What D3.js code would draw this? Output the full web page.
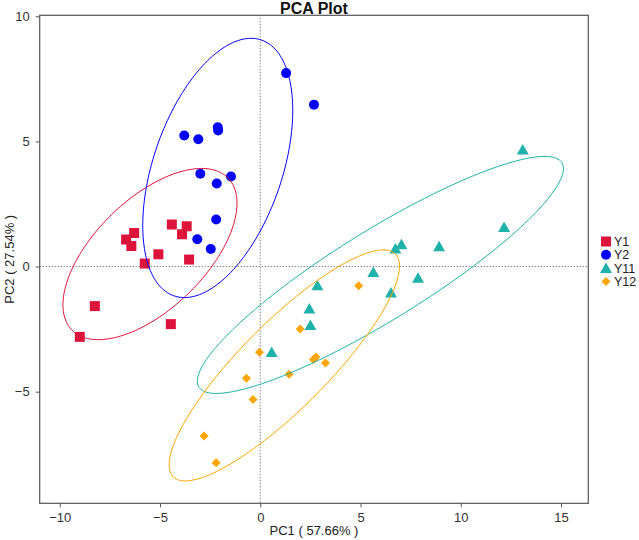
<!DOCTYPE html>
<html><head><meta charset="utf-8">
<script src="https://cdn.jsdelivr.net/npm/d3@7"></script>
<style>
body{margin:0;background:#fff;}
text{font-family:"Liberation Sans",Arial,sans-serif;}
</style></head>
<body><svg id="c" width="639" height="540"></svg>
<script>
const groups = ["Y1","Y2","Y11","Y12"];
const colors = ["#DC143C","#0000FF","#20B2AA","#FFA500"];
const y1PC1 = [-4.41,-3.67,-3.90,-6.29,-6.69,-6.43,-5.08,-5.76,-3.55,-8.25,-4.46,-9.00];
const y1PC2 = [1.68,1.61,1.29,1.34,1.08,0.82,0.49,0.12,0.28,-1.58,-2.30,-2.81];
const y2PC1 = [1.29,2.68,-2.12,-2.10,-3.79,-3.09,-2.99,-1.46,-2.17,-2.20,-3.14,-2.47];
const y2PC2 = [7.73,6.47,5.57,5.44,5.24,5.09,3.71,3.60,3.32,1.88,1.09,0.70];
const y11PC1 = [13.09,12.16,7.04,6.74,8.92,5.64,7.87,2.85,6.52,2.45,2.50,0.57];
const y11PC2 = [4.68,1.58,0.89,0.72,0.81,-0.22,-0.45,-0.75,-1.04,-1.68,-2.34,-3.41];
const y12PC1 = [4.91,1.99,-0.04,2.78,2.65,3.25,1.44,-0.69,-0.36,-2.80,-2.20];
const y12PC2 = [-0.77,-2.50,-3.42,-3.61,-3.71,-3.85,-4.30,-4.46,-5.31,-6.77,-7.84];
// confidence ellipses: centre and covariance-like shape in data units
const ellCX = [-5.50,-2.12,5.99,1.2];
const ellCY = [0.50,3.94,-0.335,-3.95];
const ellSxx = [18.84,13.99,83.36,33.0];
const ellSyy = [11.70,26.83,22.42,21.3];
const ellSxy = [8.81,8.60,38.76,22.8];
const xTicks = [-10,-5,0,5,10,15];
const yTicks = [-5,0,5,10];
const xLabel = "PC1 ( 57.66% )";
const yLabel = "PC2 ( 27.54% )";
const title = "PCA Plot";

const PC1 = [y1PC1,y2PC1,y11PC1,y12PC1];
const PC2 = [y1PC2,y2PC2,y11PC2,y12PC2];

const L=39.7,R=588.3,T=15.3,B=503.3;
const x = d3.scaleLinear().domain([-11.0,16.36]).range([L,R]);
const y = d3.scaleLinear().domain([-9.46,10.04]).range([B,T]);
const svg = d3.select("#c");

// reference lines
svg.append("line").attr("x1",x(0)).attr("x2",x(0)).attr("y1",T).attr("y2",B)
  .attr("stroke","#555").attr("stroke-width",1).attr("stroke-dasharray","1,2");
svg.append("line").attr("x1",L).attr("x2",R).attr("y1",y(0)).attr("y2",y(0))
  .attr("stroke","#555").attr("stroke-width",1).attr("stroke-dasharray","1,2");

// points
const shapes = [
  (g)=>g.append("rect").attr("x",-5).attr("y",-5).attr("width",10).attr("height",10),
  (g)=>g.append("circle").attr("r",5),
  (g)=>g.append("path").attr("d","M0,-5.5L6,5L-6,5Z"),
  (g)=>g.append("path").attr("d","M0,-4.5L4.5,0L0,4.5L-4.5,0Z")
];
groups.forEach((gname,i)=>{
  const pts = PC1[i].map((v,j)=>[v,PC2[i][j]]);
  pts.forEach(p=>{
    const g = svg.append("g").attr("transform",`translate(${x(p[0])},${y(p[1])})`).attr("fill",colors[i]);
    shapes[i](g);
  });
});

// ellipses
groups.forEach((gname,i)=>{
  const a = Math.sqrt(ellSxx[i]);
  const c = ellSxy[i]/a;
  const d = Math.sqrt(ellSyy[i]-c*c);
  const pts = d3.range(0,361,2).map(deg=>{
    const t = deg*Math.PI/180;
    return [x(ellCX[i]+a*Math.cos(t)), y(ellCY[i]+c*Math.cos(t)+d*Math.sin(t))];
  });
  svg.append("path").attr("d",d3.line()(pts)+"Z").attr("fill","none")
    .attr("stroke",colors[i]).attr("stroke-width",1);
});

// frame
svg.append("rect").attr("x",L).attr("y",T).attr("width",R-L).attr("height",B-T)
  .attr("fill","none").attr("stroke","#555").attr("stroke-width",1.2);

const xa = svg.append("g").attr("transform",`translate(0,${B})`)
  .call(d3.axisBottom(x).tickValues(xTicks).tickSize(4).tickPadding(5).tickFormat(d3.format("d")));
const ya = svg.append("g").attr("transform",`translate(${L},0)`)
  .call(d3.axisLeft(y).tickValues(yTicks).tickSize(4).tickPadding(6).tickFormat(d3.format("d")));
[xa,ya].forEach(a=>{
  a.select(".domain").remove();
  a.selectAll("line").attr("stroke","#555");
  a.selectAll("text").attr("fill","#333").style("font-size","13px").style("font-family","Liberation Sans, Arial, sans-serif");
});

svg.append("text").attr("x",(L+R)/2).attr("y",13.5).attr("text-anchor","middle")
  .style("font-size","16px").style("font-weight","bold").attr("fill","#111").text(title);
svg.append("text").attr("x",(L+R)/2).attr("y",535).attr("text-anchor","middle")
  .style("font-size","13px").attr("fill","#222").text(xLabel);
svg.append("text").attr("transform",`translate(14,${(T+B)/2}) rotate(-90)`).attr("text-anchor","middle")
  .style("font-size","13px").attr("fill","#222").text(yLabel);

// legend
groups.forEach((gname,i)=>{
  const ly = 241.5 + i*13.3;
  const g = svg.append("g").attr("transform",`translate(606,${ly})`).attr("fill",colors[i]);
  shapes[i](g);
  svg.append("text").attr("x",614).attr("y",ly).attr("dy","0.36em")
    .style("font-size","12.5px").attr("fill","#222").text(gname);
});
</script></body></html>
